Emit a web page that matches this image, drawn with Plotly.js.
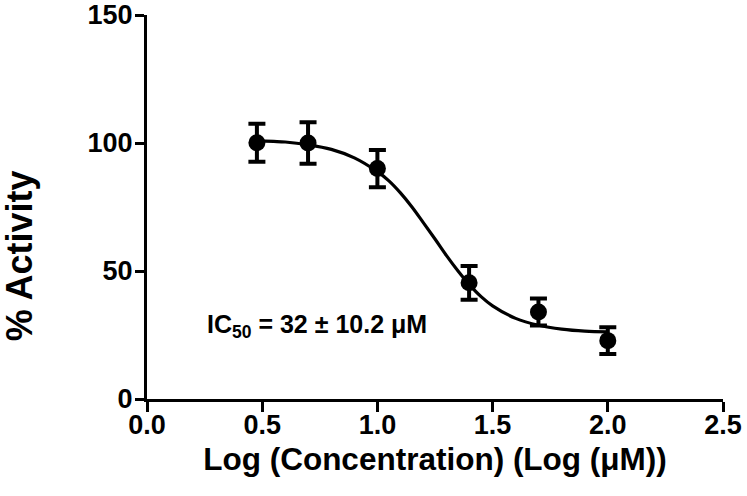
<!DOCTYPE html>
<html>
<head>
<meta charset="utf-8">
<script src="https://cdn.plot.ly/plotly-3.0.1.min.js"></script>
<style>html,body{margin:0;padding:0;background:#fff;}#chart{width:747px;height:496px;}</style>
</head>
<body>
<div id="chart"></div>
<script>
// Measured points: log concentration (log µM), % activity, error (SD)
const logConc = [0.477, 0.699, 1.0, 1.398, 1.699, 2.0];
const activity = [100.1, 100.0, 90.0, 45.4, 34.0, 22.8];
const activityErr = [7.4, 8.1, 7.3, 6.6, 5.3, 5.2];

// Fitted curve
const curveX = [0.477, 0.55, 0.6, 0.7, 0.8, 0.9, 1.0, 1.05, 1.1, 1.15, 1.2, 1.25, 1.3, 1.35, 1.4, 1.45, 1.5, 1.6, 1.7, 1.8, 1.9, 2.0];
const curveY = [100.8, 100.6, 100.4, 99.3, 97.5, 94.2, 88.8, 85.2, 80.5, 75.0, 68.8, 62.5, 56.0, 50.0, 44.6, 40.0, 36.4, 31.5, 28.8, 27.3, 26.5, 26.2];

const xTicks = [0.0, 0.5, 1.0, 1.5, 2.0, 2.5];
const xTickText = ["0.0", "0.5", "1.0", "1.5", "2.0", "2.5"];
const yTicks = [0, 50, 100, 150];

const xTitle = "Log (Concentration) (Log (μM))";
const yTitle = "% Activity";
const icLabel = "IC<sub>50</sub> = 32 ± 10.2 μM";

const FONT = "Liberation Sans, Arial, sans-serif";

const data = [
  {
    x: curveX, y: curveY, type: "scatter", mode: "lines",
    line: {color: "#000", width: 3.2, shape: "spline", smoothing: 1},
    hoverinfo: "skip", showlegend: false
  },
  {
    x: logConc, y: activity, type: "scatter", mode: "markers",
    marker: {color: "#000", size: 17, symbol: "circle"},
    error_y: {type: "data", array: activityErr, visible: true, color: "#000", thickness: 4, width: 8.5},
    showlegend: false
  }
];

const layout = {
  width: 747, height: 496,
  margin: {l: 147, r: 24, t: 15, b: 97},
  paper_bgcolor: "#fff", plot_bgcolor: "#fff",
  font: {family: FONT, color: "#000"},
  xaxis: {
    range: [0, 2.5], tickvals: xTicks, ticktext: xTickText,
    showgrid: false, zeroline: false, showline: true, linecolor: "#000", linewidth: 3,
    ticks: "outside", ticklen: 10, tickwidth: 3, tickcolor: "#000", ticklabelstandoff: -10,
    tickfont: {family: FONT, size: 27, color: "#000", weight: "bold"},
    title: {text: "<b>" + xTitle + "</b>", font: {family: FONT, size: 31.5, color: "#000"}, standoff: 9},
    fixedrange: true
  },
  yaxis: {
    range: [0, 150], tickvals: yTicks,
    showgrid: false, zeroline: false, showline: true, linecolor: "#000", linewidth: 3,
    ticks: "outside", ticklen: 9, tickwidth: 3, tickcolor: "#000", ticklabelstandoff: -3,
    tickfont: {family: FONT, size: 27, color: "#000", weight: "bold"},
    fixedrange: true
  },
  annotations: [
    {
      x: 0.25, y: 28.5, xref: "x", yref: "y", xanchor: "left", yanchor: "middle",
      text: "<b>" + icLabel + "</b>", showarrow: false,
      font: {family: FONT, size: 25, color: "#000"}
    },
    {
      x: -0.222, y: 0.372, xref: "paper", yref: "paper", xanchor: "center", yanchor: "middle",
      text: "<b>" + yTitle + "</b>", textangle: -90, showarrow: false,
      font: {family: FONT, size: 36, color: "#000"}
    }
  ]
};

Plotly.newPlot("chart", data, layout, {displayModeBar: false, staticPlot: true});
</script>
</body>
</html>
